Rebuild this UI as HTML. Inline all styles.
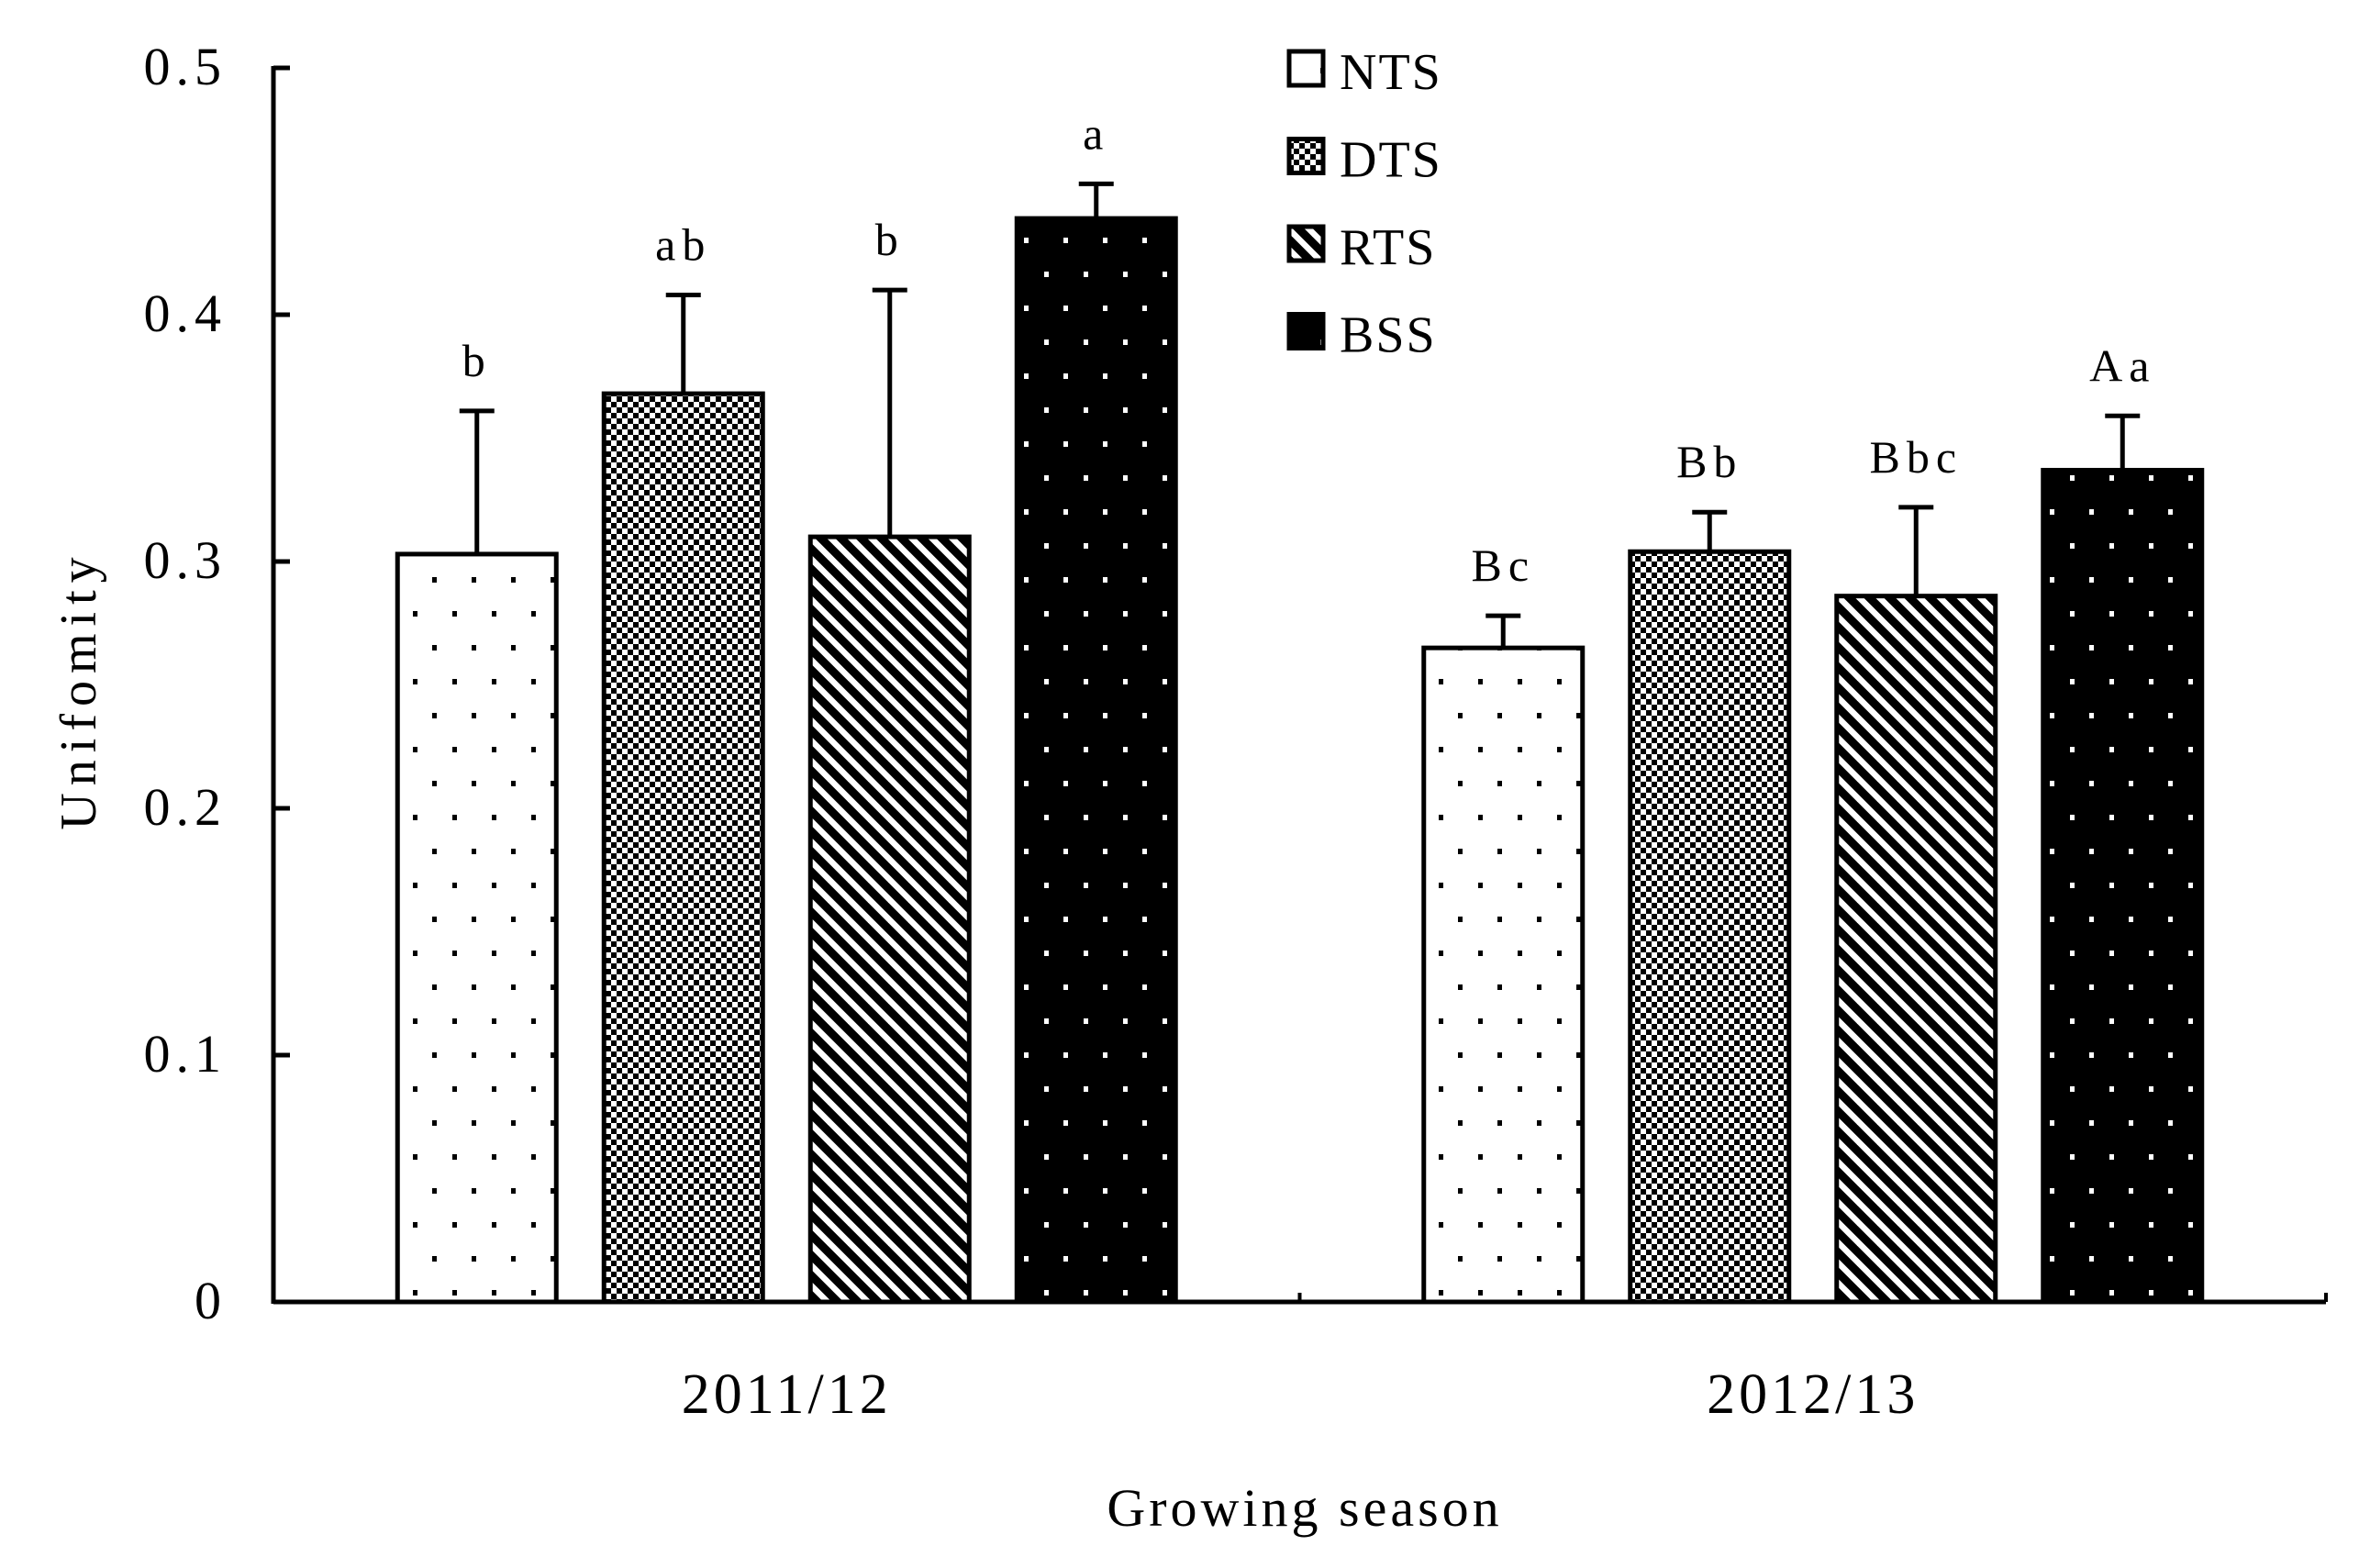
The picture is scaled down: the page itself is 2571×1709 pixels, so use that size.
<!DOCTYPE html>
<html><head><meta charset="utf-8"><style>
html,body{margin:0;padding:0;background:#fff;}
svg{display:block;}
text{font-family:"Liberation Serif",serif;fill:#000;}
</style></head><body>
<svg id="chart" width="2571" height="1709" viewBox="0 0 2571 1709" xmlns="http://www.w3.org/2000/svg">
<defs>
<pattern id="pNTS" width="86" height="74" patternUnits="userSpaceOnUse" x="450" y="0">
<rect width="86" height="74" fill="#fff"/>
<rect x="0" y="0" width="5" height="6" fill="#000"/><rect x="43" y="0" width="5" height="6" fill="#000"/>
<rect x="21" y="37" width="5" height="6" fill="#000"/><rect x="64" y="37" width="5" height="6" fill="#000"/>
</pattern>
<pattern id="pBSS" width="86" height="74" patternUnits="userSpaceOnUse" x="450" y="0">
<rect width="86" height="74" fill="#000"/>
<rect x="0" y="0" width="5" height="6" fill="#fff"/><rect x="43" y="0" width="5" height="6" fill="#fff"/>
<rect x="21" y="37" width="5" height="6" fill="#fff"/><rect x="64" y="37" width="5" height="6" fill="#fff"/>
</pattern>
<pattern id="pDTS" width="12" height="12" patternUnits="userSpaceOnUse">
<rect width="12" height="12" fill="#fff"/>
<rect x="0" y="0" width="6" height="6" fill="#000"/><rect x="6" y="6" width="6" height="6" fill="#000"/>
</pattern>
<pattern id="pRTS" width="22" height="22" patternUnits="userSpaceOnUse">
<rect width="22" height="22" fill="#fff"/>
<path d="M-6,-6 L28,28" stroke="#000" stroke-width="9"/>
<path d="M-6,16 L6,28" stroke="#000" stroke-width="9"/>
<path d="M16,-6 L28,6" stroke="#000" stroke-width="9"/>
</pattern>
</defs>
<g id="plot"></g>
</svg>
<script>
const categories = ["2011/12", "2012/13"];
const seriesNames = ["NTS", "DTS", "RTS", "BSS"];
const valuesNTS = [0.303, 0.265];
const valuesDTS = [0.368, 0.304];
const valuesRTS = [0.310, 0.286];
const valuesBSS = [0.439, 0.337];
const errTopNTS = [0.361, 0.278];
const errTopDTS = [0.408, 0.320];
const errTopRTS = [0.410, 0.322];
const errTopBSS = [0.453, 0.359];
const lettersNTS = ["b", "Bc"];
const lettersDTS = ["ab", "Bb"];
const lettersRTS = ["b", "Bbc"];
const lettersBSS = ["a", "Aa"];
const yTicks = [0, 0.1, 0.2, 0.3, 0.4, 0.5];
const yTickLabels = ["0", "0.1", "0.2", "0.3", "0.4", "0.5"];

const NS = "http://www.w3.org/2000/svg";
const g = document.getElementById("plot");
const X0 = 298, X1 = 2535, Y0 = 1419, Y1 = 74, YMAX = 0.5;
function yScale(v){ return Y0 - (v / YMAX) * (Y0 - Y1); }
const groupW = (X1 - X0) / categories.length;
function groupCenter(i){ return X0 + groupW * (i + 0.5); }
const barW = 173, barStep = 225;
function xBar(i, s){ return groupCenter(i) - (barStep * 1.5) - barW / 2 + s * barStep; }
function mk(tag, attrs){ const e = document.createElementNS(NS, tag); for (const k in attrs) e.setAttribute(k, attrs[k]); g.appendChild(e); return e; }

const vals = [valuesNTS, valuesDTS, valuesRTS, valuesBSS];
const errs = [errTopNTS, errTopDTS, errTopRTS, errTopBSS];
const lets = [lettersNTS, lettersDTS, lettersRTS, lettersBSS];
const fills = ["url(#pNTS)", "url(#pDTS)", "url(#pRTS)", "url(#pBSS)"];

for (let i = 0; i < categories.length; i++) {
  for (let s = 0; s < seriesNames.length; s++) {
    const x = xBar(i, s), yt = yScale(vals[s][i]), ye = yScale(errs[s][i]), cx = x + barW / 2;
    const eb = mk("line", {x1: cx, x2: cx, y1: yt, y2: ye, stroke: "#000", "stroke-width": 5});
    
    
    const cap = mk("line", {x1: cx - 19, x2: cx + 19, y1: ye, y2: ye, stroke: "#000", "stroke-width": 5});
    
    
    const r = mk("rect", {x: x, y: yt, width: barW, height: Y0 - yt, fill: fills[s], stroke: "#000", "stroke-width": 5});
    
    
    const t = mk("text", {x: cx, y: ye - 38, "font-size": 50, "text-anchor": "middle", "letter-spacing": 7});
    t.textContent = lets[s][i];
    
    
  }
  const cl = mk("text", {x: groupCenter(i), y: 1540, "font-size": 62, "text-anchor": "middle", "letter-spacing": 4});
  cl.textContent = categories[i];
  
  
}

// axes
const ya = mk("line", {x1: X0, x2: X0, y1: Y1 - 2, y2: Y0 + 2, stroke: "#000", "stroke-width": 5});


const xa = mk("line", {x1: X0, x2: X1, y1: Y0, y2: Y0, stroke: "#000", "stroke-width": 5});


for (let k = 0; k <= categories.length; k++) {
  const tx = X0 + groupW * k;
  const tk = mk("line", {x1: tx, x2: tx, y1: Y0, y2: Y0 - 10, stroke: "#000", "stroke-width": 4});
  
  
}
for (let k = 0; k < yTicks.length; k++) {
  const yy = yScale(yTicks[k]);
  const tk = mk("line", {x1: X0, x2: X0 + 18, y1: yy, y2: yy, stroke: "#000", "stroke-width": 5});
  
  
  const tl = mk("text", {x: 247, y: yy + 18, "font-size": 58, "text-anchor": "end", "letter-spacing": 6});
  tl.textContent = yTickLabels[k];
  
  
}
const yt = mk("text", {x: 0, y: 0, "font-size": 56, "text-anchor": "middle", "letter-spacing": 8, transform: "translate(104,752) rotate(-90)"});
yt.textContent = "Unifomity";


const xt = mk("text", {x: 1422, y: 1663, "font-size": 58, "text-anchor": "middle", "letter-spacing": 4});
xt.textContent = "Growing season";



// legend
for (let s = 0; s < seriesNames.length; s++) {
  const ly = 56 + s * 95.5;
  const lb = mk("rect", {x: 1405, y: ly, width: 37, height: 37, fill: fills[s], stroke: "#000", "stroke-width": 5});
  
  
  const lt = mk("text", {x: 1460, y: ly + 41, "font-size": 56, "letter-spacing": 2});
  lt.textContent = seriesNames[s];
  
  
}
</script>
</body></html>
